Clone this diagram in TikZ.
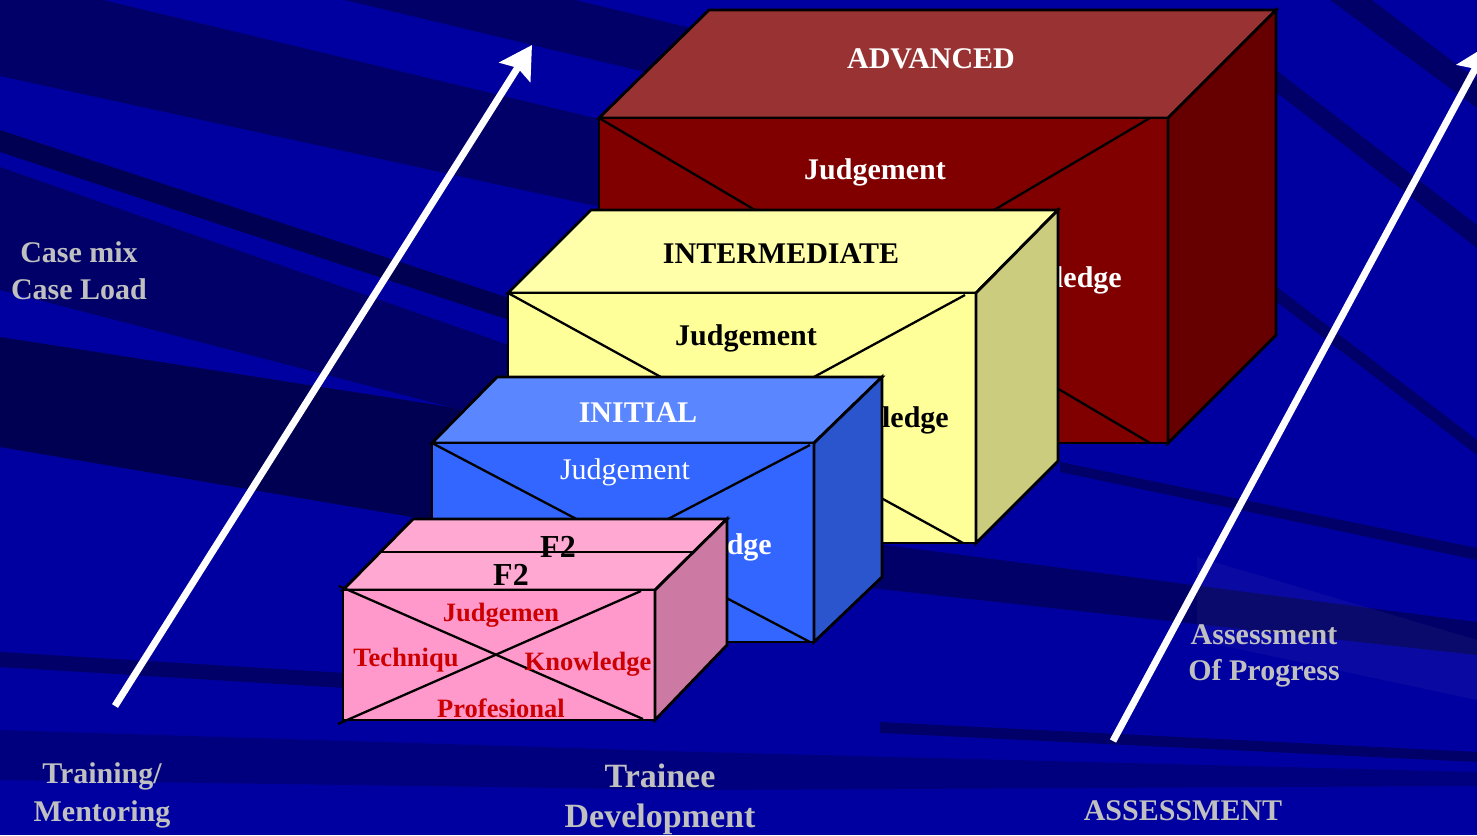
\documentclass[tikz,border=0pt]{standalone}
\usepackage{fontspec}
\setmainfont{Liberation Serif}
\usetikzlibrary{arrows.meta}

\definecolor{bgblue}{HTML}{0000A0}
\definecolor{bgnavy}{HTML}{000068}
\definecolor{bgdeep}{HTML}{000052}
\definecolor{bgband}{HTML}{00007E}
\definecolor{labelgrey}{HTML}{C0C0C0}
\definecolor{advtop}{HTML}{993333}
\definecolor{advfront}{HTML}{800000}
\definecolor{advside}{HTML}{660000}
\definecolor{inttop}{HTML}{FFFFAA}
\definecolor{intfront}{HTML}{FFFF99}
\definecolor{intside}{HTML}{CCCC7E}
\definecolor{initop}{HTML}{5A86FF}
\definecolor{inifront}{HTML}{3366FF}
\definecolor{iniside}{HTML}{2B55CC}
\definecolor{ftwotop}{HTML}{FFA8D2}
\definecolor{ftwofront}{HTML}{FF99CC}
\definecolor{ftwoside}{HTML}{CC7AA3}
\definecolor{ftwored}{HTML}{CC0000}

\begin{document}
\begin{tikzpicture}[x=1pt,y=-1pt,
  box face/.style={draw=black,line width=2.8pt},
  cross line/.style={draw=black,line width=2.3pt},
  big arrow/.style={draw=white,line width=7pt,-{Stealth[length=32pt,width=36pt,inset=5pt]}},
  grey label/.style={text=labelgrey,font=\fontsize{30}{37}\selectfont\bfseries,align=center,inner sep=0pt},
  box title/.style={font=\fontsize{30}{30}\selectfont\bfseries,inner sep=0pt},
  ftwo label/.style={text=ftwored,font=\fontsize{26.5}{26.5}\selectfont\bfseries,inner sep=0pt}]

  \useasboundingbox (0,0) rectangle (1477,835);

  % background streaks
  \fill[bgblue] (0,0) rectangle (1477,835);
  \fill[bgnavy] (0,0) -- (103,0) -- (720,148) -- (720,233) -- (0,76) -- cycle;
  \fill[bgnavy] (345,0) -- (575,0) -- (720,35) -- (720,90) -- cycle;
  \fill[bgdeep] (0,130) -- (600,328) -- (600,350) -- (0,152) -- cycle;
  \fill[bgnavy] (0,167) -- (600,377) -- (600,440) -- (450,407) -- (0,290) -- cycle;
  \fill[bgdeep] (0,337) -- (450,407) -- (600,440) -- (600,549) -- (0,447) -- cycle;
  \fill[bgnavy] (0,652) -- (345,673) -- (345,688) -- (0,667) -- cycle;
  \fill[bgband] (0,730) -- (700,752) -- (1477,772) -- (1477,786) -- (700,790) -- (0,780) -- cycle;
  \fill[bgnavy] (880,722) -- (1477,752) -- (1477,762) -- (880,733) -- cycle;
  \fill[bgnavy] (870,543) -- (1477,622) -- (1477,655) -- (870,588) -- cycle;
  \fill[bgnavy] (1060,462) -- (1477,548) -- (1477,560) -- (1060,472) -- cycle;
  \fill[bgnavy] (1150,190) -- (1477,440) -- (1477,455) -- (1150,205) -- cycle;
  \fill[bgnavy] (1276,70) -- (1477,225) -- (1477,248) -- (1276,92) -- cycle;
  \fill[bgnavy] (1330,0) -- (1372,0) -- (1477,80) -- (1477,108) -- cycle;
  \fill[white,opacity=0.04] (1197,557) -- (1477,640) -- (1477,700) -- (1197,640) -- cycle;

  % arrows
  \coordinate (train base) at (115,706);
  \coordinate (train tip) at (532,45);
  \coordinate (assess base) at (1113,741);
  \coordinate (assess tip) at (1488,45);
  \draw[big arrow] (train base) -- (train tip);
  \draw[big arrow] (assess base) -- (assess tip);

  % ADVANCED
  \filldraw[box face,fill=advtop] (599,118) -- (709,10) -- (1276,10) -- (1168,118) -- cycle;
  \filldraw[box face,fill=advfront] (599,118) rectangle (1168,443);
  \filldraw[box face,fill=advside] (1168,118) -- (1276,10) -- (1276,335) -- (1168,443) -- cycle;
  \draw[cross line] (599,118) -- (1150,443);
  \draw[cross line] (1150,118) -- (599,443);
  \node[box title,text=white] (advanced) at (931,59) {ADVANCED};
  \node[box title,text=white] (adv judge) at (875,172) {Judgement};
  \node[box title,text=white,anchor=east] (adv know) at (1122,280) {Knowledge};

  % INTERMEDIATE
  \filldraw[box face,fill=inttop] (508,293) -- (591,210) -- (1058,210) -- (976,293) -- cycle;
  \filldraw[box face,fill=intfront] (508,293) rectangle (976,543);
  \filldraw[box face,fill=intside] (976,293) -- (1058,210) -- (1058,461) -- (976,543) -- cycle;
  \draw[cross line] (508,293) -- (963,543);
  \draw[cross line] (965,295) -- (508,543);
  \node[box title] (intermediate) at (781,254) {INTERMEDIATE};
  \node[box title] (int judge) at (746,338) {Judgement};
  \node[box title,anchor=east] (int know) at (949,420) {Knowledge};

  % INITIAL
  \filldraw[box face,fill=initop] (432,443) -- (497,377) -- (882,377) -- (814,443) -- cycle;
  \filldraw[box face,fill=inifront] (432,443) rectangle (814,642);
  \filldraw[box face,fill=iniside] (814,443) -- (882,377) -- (882,577) -- (814,642) -- cycle;
  \draw[cross line] (432,443) -- (810,642);
  \draw[cross line] (810,445) -- (432,642);
  \node[box title,text=white] (initial) at (638,413) {INITIAL};
  \node[box title,text=white,font=\fontsize{30}{30}\selectfont] (ini judge) at (625,472) {Judgement};
  \node[box title,text=white,anchor=east] (ini know) at (772,547) {Knowledge};

  % F2
  \filldraw[box face,fill=ftwotop] (343,590) -- (413,519) -- (727,519) -- (655,590) -- cycle;
  \filldraw[box face,fill=ftwofront] (343,590) rectangle (655,720);
  \filldraw[box face,fill=ftwoside] (655,590) -- (727,519) -- (727,645) -- (655,720) -- cycle;
  \node[box title,font=\fontsize{32}{32}\selectfont\bfseries] (f2 back) at (558,547) {F2};
  \draw[cross line] (381,552) -- (692,552);
  \node[box title,font=\fontsize{32}{32}\selectfont\bfseries] (f2 front) at (511,575) {F2};
  \draw[cross line] (339,586) -- (643,719);
  \draw[cross line] (641,591) -- (338,724);
  \node[ftwo label] (f2 judge) at (501,615) {Judgemen};
  \node[ftwo label] (f2 tech) at (406,660) {Techniqu};
  \node[ftwo label] (f2 know) at (588,664) {Knowledge};
  \node[ftwo label] (f2 prof) at (501,708) {Profesional};

  % side texts
  \node[grey label] (case mix) at (79,271) {Case mix\\Case Load};
  \node[grey label,font=\fontsize{30}{38}\selectfont\bfseries] (training) at (102,795) {Training/\\Mentoring};
  \node[grey label,font=\fontsize{34}{40}\selectfont\bfseries] (trainee) at (660,799) {Trainee\\Development};
  \node[grey label,font=\fontsize{30}{36}\selectfont\bfseries] (progress) at (1264,656) {Assessment\\Of Progress};
  \node[grey label] (assessment) at (1183,811) {ASSESSMENT};

\end{tikzpicture}
\end{document}
